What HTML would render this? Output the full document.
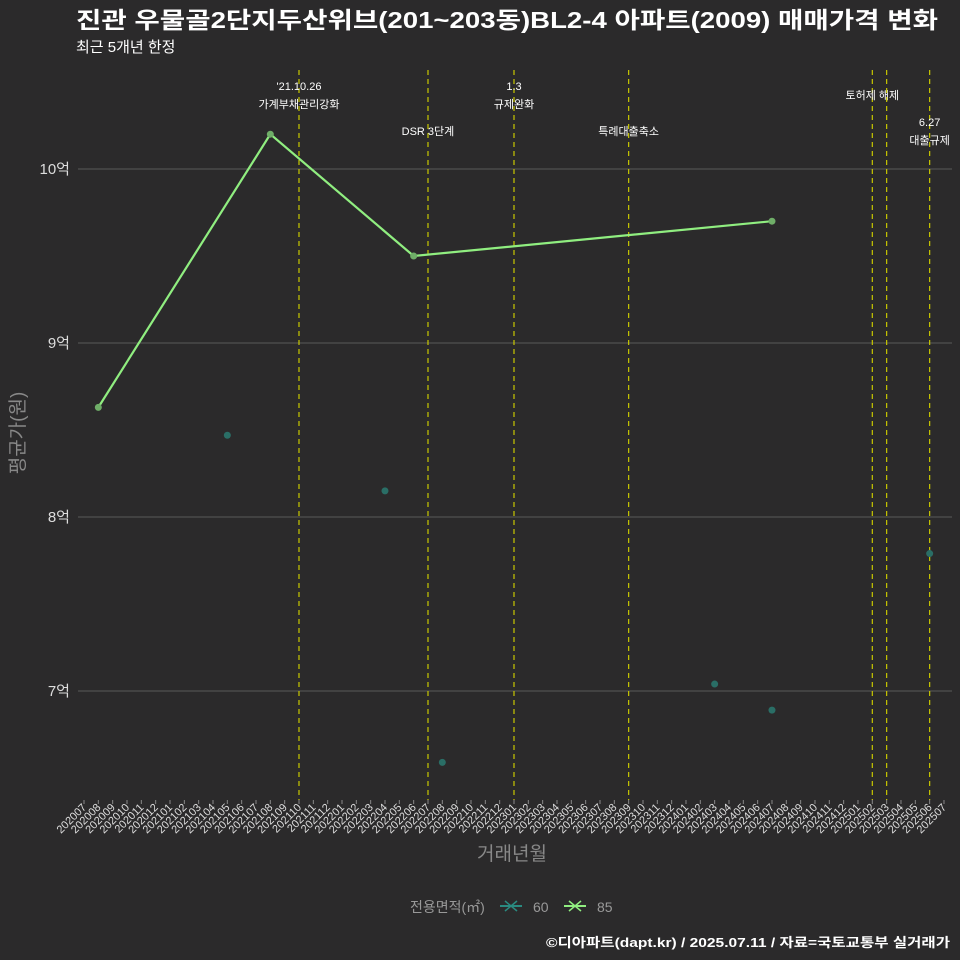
<!DOCTYPE html>
<html><head><meta charset="utf-8"><style>
html,body{margin:0;background:#2b2a2b;overflow:hidden;width:960px;height:960px;}
svg{display:block;}
svg text{font-family:"Liberation Sans","Noto Sans CJK KR",sans-serif;}
</style></head><body>
<svg id="chart" width="960" height="960" xmlns="http://www.w3.org/2000/svg">
<rect width="960" height="960" fill="#2b2a2b"/>
<text x="76" y="28" fill="#ffffff" font-size="23" font-weight="bold" textLength="862" lengthAdjust="spacingAndGlyphs">진관 우물골2단지두산위브(201~203동)BL2-4 아파트(2009) 매매가격 변화</text>
<text x="76" y="52" fill="#ffffff" font-size="15">최근 5개년 한정</text>
<g id="grid"></g><g id="vlines"></g><g id="marks"></g><g id="xaxis"></g><g id="yaxis"></g>
<text x="0" y="0" transform="translate(24,433) rotate(-90)" text-anchor="middle" fill="#888" font-size="19">평균가(원)</text>
<text x="512" y="860" text-anchor="middle" fill="#888" font-size="19">거래년월</text>
<g>
<text x="410" y="912" fill="#999" font-size="14">전용면적(㎡)</text>
<g><line x1="500" y1="906" x2="522" y2="906" stroke="#2a8a80" stroke-width="2"/><path d="M505 901 L517 911 M517 901 L505 911" stroke="#2a8a80" stroke-width="1.5"/><text x="533" y="912" fill="#999" font-size="14">60</text></g>
<g><line x1="564" y1="906" x2="586" y2="906" stroke="#90ee80" stroke-width="2"/><path d="M569 901 L581 911 M581 901 L569 911" stroke="#90ee80" stroke-width="1.5"/><text x="597" y="912" fill="#999" font-size="14">85</text></g>
</g>
<text x="546" y="947" fill="#ffffff" font-size="13" font-weight="bold" textLength="404" lengthAdjust="spacingAndGlyphs">©디아파트(dapt.kr) / 2025.07.11 / 자료=국토교통부 실거래가</text>
</svg>
<script>
const months=[];for(let y=2020;y<=2025;y++)for(let m=1;m<=12;m++){const k=y*100+m;if(k>=202007&&k<=202507)months.push(String(k));}
const s60Months=["202105","202204","202208","202403","202407","202506"];
const s60Values=[84700,81500,65900,70400,68900,77900];
const s85Months=["202008","202108","202206","202407"];
const s85Values=[86300,102000,95000,97000];
const yTicks=[70000,80000,90000,100000];
const yTickLabels=["7억","8억","9억","10억"];
const eventMonths=["202110","202207","202301","202309","202502","202503","202506"];
const eventLabels=[["'21.10.26","가계부채관리강화"],["DSR 3단계"],["1.3","규제완화"],["특례대출축소"],["토허제 해제"],[],["6.27","대출규제"]];
const eventY=[90,135,90,135,99,null,126];
const NS="http://www.w3.org/2000/svg";
const X0=84,DX=14.333,L=78,R=952,T=65,B=800;
const xs=m=>X0+months.indexOf(m)*DX;
const ys=v=>169+(100000-v)/10000*174;
function el(t,a,p){const e=document.createElementNS(NS,t);for(const k in a)e.setAttribute(k,a[k]);document.getElementById(p).appendChild(e);return e;}
yTicks.forEach((v,i)=>{
 const g=el('line',{x1:L,x2:R,y1:ys(v),y2:ys(v),stroke:'#5a5a5a','stroke-width':1},'grid');
 
 
 const t=el('text',{x:70,y:ys(v)+5,'text-anchor':'end',fill:'#ddd','font-size':15},'yaxis');t.textContent=yTickLabels[i];
 
 
});
eventMonths.forEach((m,i)=>{
 const x=xs(m);
 const l=el('line',{x1:x,x2:x,y1:T+5,y2:B,stroke:'#c8c800','stroke-width':1.2,'stroke-dasharray':'5,4'},'vlines');
 
 
 if(eventY[i]===null)return;
 eventLabels[i].forEach((s,j)=>{if(!s)return;
  const t=el('text',{x:x,y:eventY[i]+j*18,'text-anchor':'middle',fill:'#fff','font-size':11},'vlines');t.textContent=s;
  
  });
});
months.forEach(m=>{
 const x=xs(m);
 const tk=el('line',{x1:x,x2:x,y1:B,y2:B+4,stroke:'#888'},'xaxis');
 
 
 const t=el('text',{x:0,y:0,transform:`translate(${x+3},${B+8}) rotate(-45)`,'text-anchor':'end',fill:'#ddd','font-size':11},'xaxis');t.textContent=m;
 
 
});
const pts=s85Months.map((m,i)=>xs(m)+','+ys(s85Values[i])).join(' ');
const pl=el('polyline',{points:pts,fill:'none',stroke:'#90ee80','stroke-width':2.2},'marks');


s85Months.forEach((m,i)=>{const c=el('circle',{cx:xs(m),cy:ys(s85Values[i]),r:3.5,fill:'#6fae68'},'marks');
 
 });
s60Months.forEach((m,i)=>{const c=el('circle',{cx:xs(m),cy:ys(s60Values[i]),r:3.5,fill:'#2a6e66'},'marks');
 
 });
</script>
</body></html>
